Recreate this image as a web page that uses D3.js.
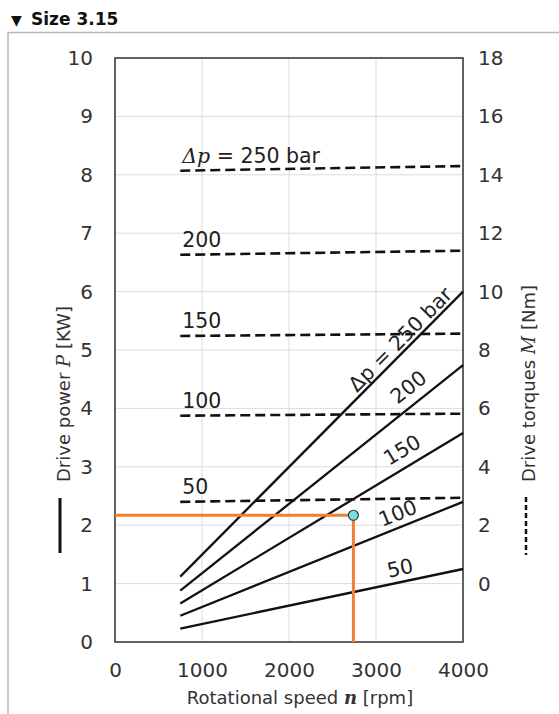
<!DOCTYPE html>
<html>
<head>
<meta charset="utf-8">
<script src="https://cdn.jsdelivr.net/npm/d3@7"></script>
<style>
  html, body { margin: 0; padding: 0; background: #fff; }
  svg { display: block; font-family: "DejaVu Sans", sans-serif; }
</style>
</head>
<body>
<svg id="chart" width="559" height="714"></svg>
<script>
// Pressure differences (bar) for the characteristic curves
const pressures = [50, 100, 150, 200, 250];
// Speed range covered by each curve (rpm)
const speedRange = [750, 4000];
// Drive power P [kW] at start / end of speed range
const powerStart = [0.23, 0.45, 0.66, 0.88, 1.12];
const powerEnd = [1.25, 2.40, 3.58, 4.74, 6.00];
// Drive torque M [Nm] at start / end of speed range
const torqueStart = [2.80, 5.75, 8.48, 11.26, 14.14];
const torqueEnd = [2.94, 5.82, 8.56, 11.40, 14.30];
// Operating point example
const opSpeed = 2740;
const opPower = 2.17;
// Axis ticks
const speedTicks = [0, 1000, 2000, 3000, 4000];
const powerTicks = [0, 1, 2, 3, 4, 5, 6, 7, 8, 9, 10];
const torqueTicks = [0, 2, 4, 6, 8, 10, 12, 14, 16, 18];

const svg = d3.select("#chart");
const sans = "\"DejaVu Sans\", sans-serif";
const serif = "\"DejaVu Serif\", serif";

// Panel header and frame
svg.append("text").attr("x", 11).attr("y", 25)
  .attr("font-size", 14).attr("font-weight", 700).attr("fill", "#111").text("▼");
svg.append("text").attr("x", 31).attr("y", 25)
  .attr("font-size", 17).attr("font-weight", 700).attr("fill", "#111").text("Size 3.15");
svg.append("path").attr("d", "M8,714 V32.5 H559")
  .attr("fill", "none").attr("stroke", "#b8b8b8").attr("stroke-width", 1.5);

const plot = { left: 115, right: 463, top: 58, bottom: 642 };
const x = d3.scaleLinear([0, 4000], [plot.left, plot.right]);
const yP = d3.scaleLinear([0, 10], [plot.bottom, plot.top]);
const yM = d3.scaleLinear([-2, 18], [plot.bottom, plot.top]);

// Grid
const grid = svg.append("g").attr("stroke", "#dcdcdc").attr("stroke-width", 1);
grid.selectAll("line.h").data(powerTicks.slice(1, -1)).join("line")
  .attr("x1", plot.left).attr("x2", plot.right)
  .attr("y1", d => yP(d)).attr("y2", d => yP(d));
grid.selectAll("line.v").data(speedTicks.slice(1, -1)).join("line")
  .attr("y1", plot.top).attr("y2", plot.bottom)
  .attr("x1", d => x(d)).attr("x2", d => x(d));

// Axes (labels only; frame drawn separately)
const tickFont = 20;
const axL = svg.append("g").attr("transform", `translate(${plot.left},0)`)
  .call(d3.axisLeft(yP).tickValues(powerTicks).tickFormat(d3.format("d")).tickSize(0).tickPadding(22));
const axR = svg.append("g").attr("transform", `translate(${plot.right},0)`)
  .call(d3.axisRight(yM).tickValues(torqueTicks).tickFormat(d3.format("d")).tickSize(0).tickPadding(15));
const axB = svg.append("g").attr("transform", `translate(0,${plot.bottom})`)
  .call(d3.axisBottom(x).tickValues(speedTicks).tickFormat(d3.format("d")).tickSize(0).tickPadding(21));
[axL, axR, axB].forEach(a => {
  a.attr("font-size", tickFont).attr("font-family", sans);
  a.select(".domain").remove();
  a.selectAll("text").attr("font-size", tickFont).attr("fill", "#333");
});

svg.append("rect")
  .attr("x", plot.left).attr("y", plot.top)
  .attr("width", plot.right - plot.left).attr("height", plot.bottom - plot.top)
  .attr("fill", "none").attr("stroke", "#3a3a3a").attr("stroke-width", 1.6);

// Curve records built from the arrays above
const curves = pressures.map((p, i) => ({
  p,
  power: [[speedRange[0], powerStart[i]], [speedRange[1], powerEnd[i]]],
  torque: [[speedRange[0], torqueStart[i]], [speedRange[1], torqueEnd[i]]]
}));

const torqueLine = d3.line().x(d => x(d[0])).y(d => yM(d[1]));
const powerLine = d3.line().x(d => x(d[0])).y(d => yP(d[1]));

// Torque curves (dashed)
svg.append("g").selectAll("path").data(curves).join("path")
  .attr("d", d => torqueLine(d.torque))
  .attr("fill", "none").attr("stroke", "#111").attr("stroke-width", 2.6)
  .attr("stroke-dasharray", "10,5");

// Power curves (solid)
svg.append("g").selectAll("path").data(curves).join("path")
  .attr("d", d => powerLine(d.power))
  .attr("fill", "none").attr("stroke", "#111").attr("stroke-width", 2.3);

// Torque curve labels (horizontal, above left end)
const labelFont = 20.5;
const tLabels = svg.append("g").attr("font-size", labelFont).attr("fill", "#222");
curves.forEach(d => {
  const t = tLabels.append("text")
    .attr("x", x(speedRange[0]) + 2)
    .attr("y", yM(d.torque[0][1]) - 8);
  if (d.p === 250) {
    t.append("tspan").attr("font-family", serif)
      .attr("font-style", "italic").text("Δp");
    t.append("tspan").text(" = 250 bar");
  } else {
    t.text(d.p);
  }
});

// Power curve labels (rotated along each line)
const labelPlacement = { 50: [3310, 14], 100: [3310, 14], 150: [3400, 17], 200: [3494, 17], 250: [3368, 11] };
const pLabels = svg.append("g").attr("font-size", labelFont).attr("fill", "#222");
curves.forEach(d => {
  const [n0, P0] = d.power[0], [n1, P1] = d.power[1];
  const [ln, off] = labelPlacement[d.p];
  const Pn = P0 + (P1 - P0) * (ln - n0) / (n1 - n0);
  const dx = x(n1) - x(n0), dy = yP(P1) - yP(P0);
  const ang = Math.atan2(dy, dx);
  const px = x(ln) + off * Math.sin(ang);
  const py = yP(Pn) - off * Math.cos(ang);
  pLabels.append("text")
    .attr("transform", `translate(${px},${py}) rotate(${ang * 180 / Math.PI})`)
    .attr("text-anchor", "middle").attr("dy", "0.35em")
    .text(d.p === 250 ? "Δp = 250 bar" : d.p);
});

// Operating point with reading lines
const orange = "#f08030";
svg.append("path")
  .attr("d", `M${x(0)},${yP(opPower)} H${x(opSpeed)} V${yP(0)}`)
  .attr("fill", "none").attr("stroke", orange).attr("stroke-width", 3);
svg.append("circle").attr("cx", x(opSpeed)).attr("cy", yP(opPower)).attr("r", 5)
  .attr("fill", "#74e3e0").attr("stroke", "#2a3a3a").attr("stroke-width", 1.2);

// Axis titles with line-style keys
const titleFont = 18;
const lt = svg.append("text")
  .attr("transform", "translate(70,482) rotate(-90)")
  .attr("font-size", titleFont).attr("fill", "#333");
lt.append("tspan").text("Drive power ");
lt.append("tspan").attr("font-family", serif).attr("font-style", "italic").text("P");
lt.append("tspan").text(" [KW]");
svg.append("line").attr("x1", 60).attr("x2", 60).attr("y1", 498).attr("y2", 553)
  .attr("stroke", "#111").attr("stroke-width", 3);

const rt = svg.append("text")
  .attr("transform", "translate(535,482) rotate(-90)")
  .attr("font-size", titleFont).attr("fill", "#333");
rt.append("tspan").text("Drive torques ");
rt.append("tspan").attr("font-family", serif).attr("font-style", "italic").text("M");
rt.append("tspan").text(" [Nm]");
svg.append("line").attr("x1", 526).attr("x2", 526).attr("y1", 497).attr("y2", 555)
  .attr("stroke", "#111").attr("stroke-width", 2.5).attr("stroke-dasharray", "5,3");

const bt = svg.append("text")
  .attr("x", 300).attr("y", 704)
  .attr("text-anchor", "middle").attr("font-size", titleFont).attr("fill", "#333");
bt.append("tspan").text("Rotational speed ");
bt.append("tspan").attr("font-family", serif)
  .attr("font-style", "italic").attr("font-weight", 700).text("n");
bt.append("tspan").text(" [rpm]");
</script>
</body>
</html>
